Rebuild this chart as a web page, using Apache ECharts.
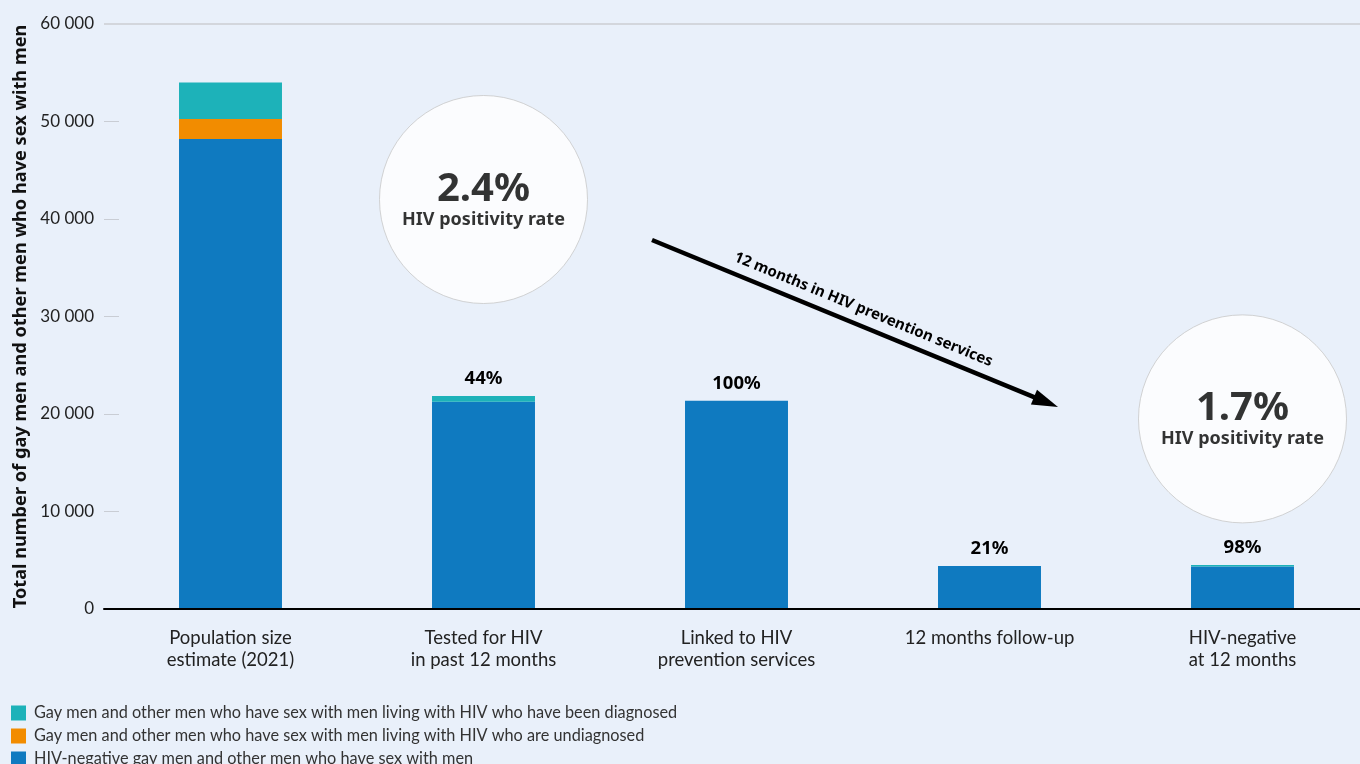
<!DOCTYPE html>
<html><head><meta charset="utf-8">
<script src="https://cdn.jsdelivr.net/npm/echarts@6/dist/echarts.min.js"></script>
<style>html,body{margin:0;padding:0;background:#e9f0fa;}#c{width:1360px;height:764px;}</style>
</head><body><div id="c"></div>
<script>
const categories = ['Population size\nestimate (2021)', 'Tested for HIV\nin past 12 months', 'Linked to HIV\nprevention services', '12 months follow-up', 'HIV-negative\nat 12 months'];
const hivNegative = [48200, 21250, 21350, 4420, 4350];
const undiagnosed = [2050, 0, 0, 0, 0];
const diagnosed = [3750, 600, 0, 0, 160];
const pctLabels = ['', '44%', '100%', '21%', '98%'];
const yTicks = [0, 10000, 20000, 30000, 40000, 50000, 60000];
const circleTexts = [{cat: 1, y: 42000, big: '2.4%'}, {cat: 4, y: 19500, big: '1.7%'}];
const arrowText = '12 months in HIV prevention services';
const seriesNames = ['HIV-negative gay men and other men who have sex with men', 'Gay men and other men who have sex with men living with HIV who are undiagnosed', 'Gay men and other men who have sex with men living with HIV who have been diagnosed'];

const FONT = 'Lato, "Noto Sans", sans-serif';
const BFONT = '"Noto Sans", Lato, sans-serif';
const chart = echarts.init(document.getElementById('c'));
const fmt = v => { const s = String(v); return s.length > 3 ? s.slice(0, s.length - 3) + ' ' + s.slice(-3) : s; };

const L = Math.sqrt(406*406 + 167*167);
chart.setOption({
  backgroundColor: '#e9f0fa',
  textStyle: {fontFamily: FONT},
  animation: false,
  grid: {left: 104, width: 1265, top: 24, height: 585, outerBoundsMode: 'none', containLabel: false},
  legend: {
    orient: 'vertical', left: 11, top: 705, height: 90, padding: 0, itemWidth: 15, itemHeight: 15, itemGap: 7,
    icon: 'rect',
    data: [seriesNames[2], seriesNames[1], seriesNames[0]],
    textStyle: {fontSize: 16.3, lineHeight: 15, color: '#333', fontFamily: FONT, padding: [0, 0, 0, 3]}
  },
  xAxis: {
    type: 'category', data: categories, z: 3,
    axisLine: {lineStyle: {color: '#000', width: 2}},
    axisTick: {show: false},
    axisLabel: {fontSize: 18.5, color: '#222', lineHeight: 22, margin: 18, fontFamily: FONT}
  },
  yAxis: {
    type: 'value', min: 0, max: 60000, interval: 10000,
    name: 'Total number of gay men and other men who have sex with men',
    nameLocation: 'middle', nameGap: 74, nameRotate: 90,
    nameTextStyle: {fontSize: 18.2, fontWeight: 'bold', color: '#111', fontFamily: BFONT},
    axisLine: {show: false},
    axisTick: {show: true, inside: true, length: 15, lineStyle: {color: '#c9cdd4', width: 1}},
    splitLine: {show: false},
    axisLabel: {fontSize: 17, color: '#222', margin: 10, formatter: v => yTicks.includes(v) ? fmt(v) : '', fontFamily: FONT}
  },
  series: [
    {name: seriesNames[0], type: 'bar', stack: 'a', data: hivNegative, barWidth: '40.7%', itemStyle: {color: '#0f7ac0'},
     markLine: {silent: true, symbol: 'none', label: {show: false}, lineStyle: {color: '#d3d6dc', width: 2, type: 'solid'}, data: [{yAxis: 60000}]}},
    {name: seriesNames[1], type: 'bar', stack: 'a', data: undiagnosed, itemStyle: {color: '#f28c00'}},
    {name: seriesNames[2], type: 'bar', stack: 'a', data: diagnosed, itemStyle: {color: '#1db2b9'},
     label: {show: true, position: 'top', distance: 8, fontSize: 18.5, fontWeight: 'bold', color: '#000', fontFamily: BFONT,
             formatter: p => pctLabels[p.dataIndex]}},
    {type: 'scatter', symbol: 'circle', symbolSize: 208, z: 5,
     itemStyle: {color: '#fff', borderColor: '#c8c8c8', borderWidth: 1},
     data: circleTexts.map(c => ({value: [c.cat, c.y], big: c.big})),
     label: {show: true, position: 'inside', fontFamily: BFONT, color: '#000',
       formatter: p => '{a|' + p.data.big + '}\n{b|HIV positivity rate}',
       rich: {a: {fontSize: 40, fontWeight: 'bold', lineHeight: 40, color: '#000', fontFamily: BFONT, padding: [0,0,-4,0]},
              b: {fontSize: 18, fontWeight: 'bold', lineHeight: 24, color: '#000', fontFamily: BFONT}}}}
  ],
  graphic: [{
    type: 'group', x: 652, y: 240, rotation: -Math.atan2(167, 406),
    children: [
      {type: 'line', shape: {x1: 0, y1: 0, x2: L - 18, y2: 0}, style: {stroke: '#000', lineWidth: 4.5}},
      {type: 'polygon', shape: {points: [[L, 0], [L - 26, -8], [L - 26, 8]]}, style: {fill: '#000'}},
      {type: 'text', x: 222, y: -16, style: {text: arrowText, font: 'bold 15px ' + BFONT, fill: '#000', align: 'center', verticalAlign: 'middle'}}
    ]
  }]
});
</script></body></html>
